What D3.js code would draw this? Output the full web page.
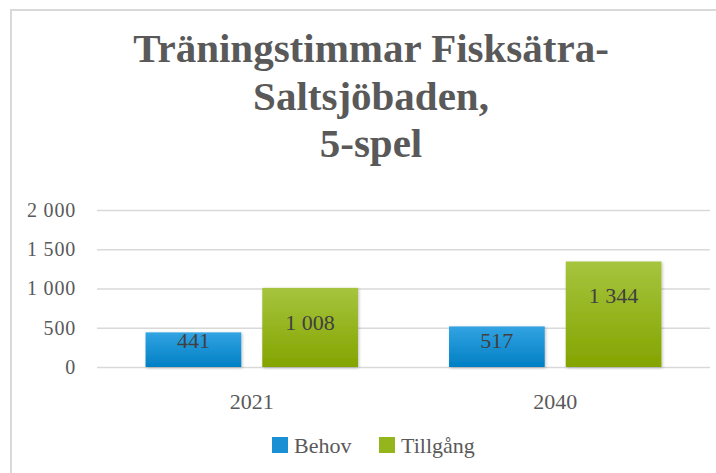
<!DOCTYPE html>
<html>
<head>
<meta charset="utf-8">
<script src="https://cdn.jsdelivr.net/npm/d3@7"></script>
<style>
  body { margin: 0; background: #fff; }
  text { font-family: "Liberation Serif", "Times New Roman", serif; }
</style>
</head>
<body>
<div id="chart"></div>
<script>
var years = ["2021", "2040"];
var seriesNames = ["Behov", "Tillgång"];
var behov = [441, 517];
var tillgang = [1008, 1344];
var yTicks = [0, 500, 1000, 1500, 2000];
var titleLines = ["Träningstimmar Fisksätra-", "Saltsjöbaden,", "5-spel"];

var width = 716,
  height = 473,
  svg = d3
    .select("#chart")
    .append("svg")
    .attr("width", width)
    .attr("height", height);

var margin = { top: 210, right: 6, bottom: 106, left: 97 },
  iwidth = width - margin.left - margin.right,
  iheight = height - margin.top - margin.bottom;

var fmt = function(d) { return d3.format(",")(d).replace(/,/g, " "); };

// frame (only left and top edges show in the crop)
svg.append("path")
  .attr("d", "M11,473 V10 H716")
  .attr("fill", "none")
  .attr("stroke", "#d9d9d9")
  .attr("stroke-width", 2);

var defs = svg.append("defs");
function grad(id, top, bottom) {
  var g = defs.append("linearGradient").attr("id", id)
    .attr("x1", 0).attr("y1", 0).attr("x2", 0).attr("y2", 1);
  g.append("stop").attr("offset", "0%").attr("stop-color", top);
  g.append("stop").attr("offset", "100%").attr("stop-color", bottom);
}
grad("gBlue", "#33a3e2", "#0080c4");
grad("gGreen", "#a6c43e", "#84a400");
var fills = ["url(#gBlue)", "url(#gGreen)"];
var legendFills = ["#1a90d4", "#94b51c"];

var shadow = defs.append("filter").attr("id", "shadow")
  .attr("x", "-10%").attr("y", "-10%").attr("width", "120%").attr("height", "120%");
shadow.append("feDropShadow")
  .attr("dx", 1).attr("dy", 1).attr("stdDeviation", 1.5)
  .attr("flood-color", "#000").attr("flood-opacity", 0.25);

// title
var title = svg.append("text")
  .attr("text-anchor", "middle")
  .attr("fill", "#595959")
  .style("font-size", "41px")
  .style("font-weight", "bold");
titleLines.forEach(function(t, i) {
  title.append("tspan")
    .attr("x", 371)
    .attr("y", 62 + i * 47.5)
    .text(t);
});

var gDrawing = svg.append("g")
  .attr("transform", `translate(${margin.left}, ${margin.top})`);

var x0 = d3.scaleBand().domain(years).range([0, iwidth]).paddingInner(0.3).paddingOuter(0.16);
var x1 = d3.scaleBand().domain(seriesNames).range([0, x0.bandwidth()]).paddingInner(0.18);
var y = d3.scaleLinear().domain([0, 2000]).range([iheight, 0]);

// gridlines + y labels
gDrawing.append("g")
  .call(d3.axisLeft(y).tickValues(yTicks).tickSize(-iwidth).tickFormat(fmt))
  .call(function(g) {
    g.select(".domain").remove();
    g.selectAll(".tick line").attr("stroke", "#d9d9d9").attr("stroke-width", 1.5);
    g.selectAll(".tick text")
      .attr("x", -21)
      .attr("fill", "#595959")
      .style("font-size", "20px")
      .style("letter-spacing", "0.8px")
      .style("font-family", "'Liberation Serif', serif");
  });

// x labels
gDrawing.append("g")
  .attr("transform", `translate(0,${iheight})`)
  .call(d3.axisBottom(x0).tickSize(0).tickPadding(26))
  .call(function(g) {
    g.select(".domain").remove();
    g.selectAll(".tick text")
      .attr("fill", "#595959")
      .style("font-size", "22px")
      .style("font-family", "'Liberation Serif', serif");
  });

var rows = years.map(function(yr, i) {
  return { year: yr, values: [behov[i], tillgang[i]] };
});

var groups = gDrawing.selectAll(".grp").data(rows).enter().append("g")
  .attr("transform", function(d) { return `translate(${x0(d.year)},0)`; });

groups.selectAll("rect").data(function(d) {
    return d.values.map(function(v, k) { return { s: seriesNames[k], v: v, k: k }; });
  })
  .enter().append("rect")
  .attr("x", function(d) { return x1(d.s); })
  .attr("y", function(d) { return y(d.v); })
  .attr("width", x1.bandwidth())
  .attr("height", function(d) { return iheight - y(d.v); })
  .attr("fill", function(d) { return fills[d.k]; })
  .attr("filter", "url(#shadow)");

groups.selectAll(".lbl").data(function(d) {
    return d.values.map(function(v, k) { return { s: seriesNames[k], v: v }; });
  })
  .enter().append("text")
  .attr("text-anchor", "middle")
  .attr("x", function(d) { return x1(d.s) + x1.bandwidth() / 2; })
  .attr("y", function(d) { return Math.min(y(d.v) + 34, iheight - 27) + 8; })
  .attr("fill", "#404040")
  .style("font-size", "22px")
  .text(function(d) { return fmt(d.v); });

// legend
var legendX = [272, 379];
var leg = svg.selectAll(".leg").data(seriesNames).enter().append("g")
  .attr("transform", function(d, i) { return `translate(${legendX[i]},437)`; });
leg.append("rect").attr("width", 16).attr("height", 16)
  .attr("fill", function(d, i) { return legendFills[i]; });
leg.append("text").attr("x", 22).attr("y", 16)
  .attr("fill", "#595959")
  .style("font-size", "22px")
  .text(function(d) { return d; });
</script>
</body>
</html>
